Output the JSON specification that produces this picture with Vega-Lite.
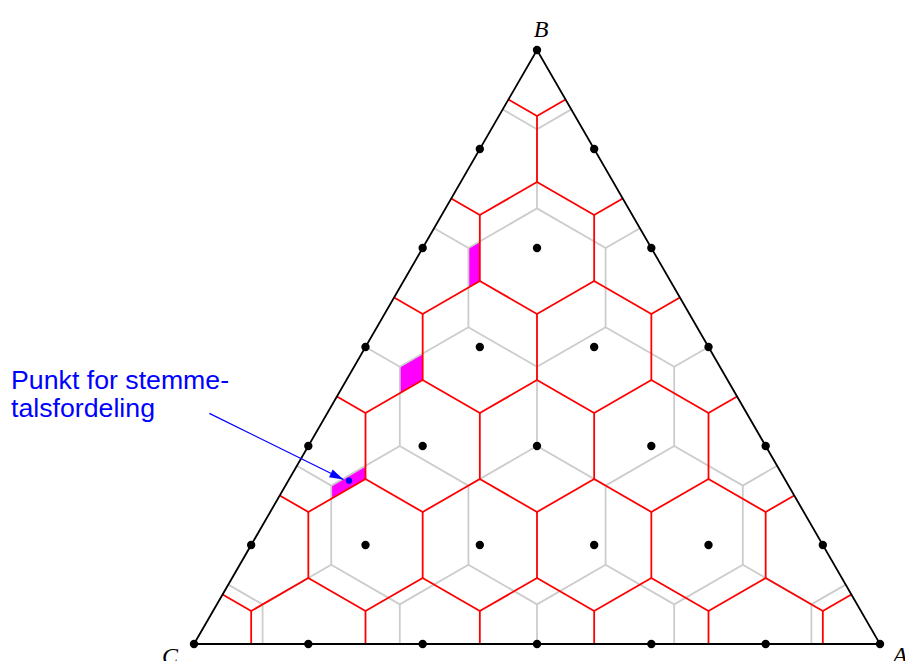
{
  "$schema": "https://vega.github.io/schema/vega-lite/v6.json",
  "width": 686,
  "height": 594,
  "autosize": {"type": "none"},
  "padding": {"left": 194, "top": 50, "right": 25, "bottom": 17},
  "background": "white",
  "config": {"view": {"stroke": null}},
  "layer": [
    {
      "data": {"values": [
        {"p": "M1", "x": 24, "y": 54, "y2": 60}, {"p": "M1", "x": 25, "y": 55, "y2": 61},
        {"p": "M2", "x": 18, "y": 38, "y2": 42}, {"p": "M2", "x": 20, "y": 40, "y2": 44},
        {"p": "M3", "x": 12, "y": 22, "y2": 24}, {"p": "M3", "x": 15, "y": 25, "y2": 27}
      ]},
      "mark": {"type": "area", "color": "#ff00ff", "opacity": 1},
      "encoding": {
        "x": {"field": "x", "type": "quantitative", "scale": {"domain": [0, 60], "nice": false, "zero": false}, "axis": null},
        "y": {"field": "y", "type": "quantitative", "stack": null, "scale": {"domain": [0, 90], "nice": false, "zero": false}, "axis": null},
        "y2": {"field": "y2"},
        "detail": {"field": "p"}
      }
    },
    {
      "data": {"values": [
        {"g": "g0", "x": 3, "y": 9}, {"g": "g0", "x": 6, "y": 6}, {"g": "g0", "x": 12, "y": 12}, {"g": "g0", "x": 18, "y": 6}, {"g": "g0", "x": 24, "y": 12}, {"g": "g0", "x": 30, "y": 6}, {"g": "g0", "x": 36, "y": 12}, {"g": "g0", "x": 42, "y": 6}, {"g": "g0", "x": 48, "y": 12}, {"g": "g0", "x": 54, "y": 6}, {"g": "g0", "x": 57, "y": 9},
        {"g": "g1", "x": 9, "y": 27}, {"g": "g1", "x": 12, "y": 24}, {"g": "g1", "x": 18, "y": 30}, {"g": "g1", "x": 24, "y": 24}, {"g": "g1", "x": 30, "y": 30}, {"g": "g1", "x": 36, "y": 24}, {"g": "g1", "x": 42, "y": 30}, {"g": "g1", "x": 48, "y": 24}, {"g": "g1", "x": 51, "y": 27},
        {"g": "g2", "x": 15, "y": 45}, {"g": "g2", "x": 18, "y": 42}, {"g": "g2", "x": 24, "y": 48}, {"g": "g2", "x": 30, "y": 42}, {"g": "g2", "x": 36, "y": 48}, {"g": "g2", "x": 42, "y": 42}, {"g": "g2", "x": 45, "y": 45},
        {"g": "g3", "x": 21, "y": 63}, {"g": "g3", "x": 24, "y": 60}, {"g": "g3", "x": 30, "y": 66}, {"g": "g3", "x": 36, "y": 60}, {"g": "g3", "x": 39, "y": 63},
        {"g": "g4", "x": 27, "y": 81}, {"g": "g4", "x": 30, "y": 78}, {"g": "g4", "x": 33, "y": 81}
      ]},
      "mark": {"type": "line", "color": "#cccccc", "strokeWidth": 1.8},
      "encoding": {
        "x": {"field": "x", "type": "quantitative", "scale": {"domain": [0, 60], "nice": false, "zero": false}, "axis": null},
        "y": {"field": "y", "type": "quantitative", "scale": {"domain": [0, 90], "nice": false, "zero": false}, "axis": null},
        "detail": {"field": "g"}
      }
    },
    {
      "data": {"values": [
        {"x": 12, "y": 12, "y2": 24}, {"x": 24, "y": 12, "y2": 24}, {"x": 36, "y": 12, "y2": 24}, {"x": 48, "y": 12, "y2": 24},
        {"x": 18, "y": 30, "y2": 42}, {"x": 30, "y": 30, "y2": 42}, {"x": 42, "y": 30, "y2": 42},
        {"x": 24, "y": 48, "y2": 60}, {"x": 36, "y": 48, "y2": 60},
        {"x": 30, "y": 66, "y2": 78},
        {"x": 6, "y": 0, "y2": 6}, {"x": 18, "y": 0, "y2": 6}, {"x": 30, "y": 0, "y2": 6}, {"x": 42, "y": 0, "y2": 6}, {"x": 54, "y": 0, "y2": 6}
      ]},
      "mark": {"type": "rule", "color": "#cccccc", "strokeWidth": 1.8},
      "encoding": {
        "x": {"field": "x", "type": "quantitative", "scale": {"domain": [0, 60], "nice": false, "zero": false}, "axis": null},
        "y": {"field": "y", "type": "quantitative", "scale": {"domain": [0, 90], "nice": false, "zero": false}, "axis": null},
        "y2": {"field": "y2"}
      }
    },
    {
      "data": {"values": [
        {"g": "r0", "x": 2.5, "y": 7.5}, {"g": "r0", "x": 5, "y": 5}, {"g": "r0", "x": 10, "y": 10}, {"g": "r0", "x": 15, "y": 5}, {"g": "r0", "x": 20, "y": 10}, {"g": "r0", "x": 25, "y": 5}, {"g": "r0", "x": 30, "y": 10}, {"g": "r0", "x": 35, "y": 5}, {"g": "r0", "x": 40, "y": 10}, {"g": "r0", "x": 45, "y": 5}, {"g": "r0", "x": 50, "y": 10}, {"g": "r0", "x": 55, "y": 5}, {"g": "r0", "x": 57.5, "y": 7.5},
        {"g": "r1", "x": 7.5, "y": 22.5}, {"g": "r1", "x": 10, "y": 20}, {"g": "r1", "x": 15, "y": 25}, {"g": "r1", "x": 20, "y": 20}, {"g": "r1", "x": 25, "y": 25}, {"g": "r1", "x": 30, "y": 20}, {"g": "r1", "x": 35, "y": 25}, {"g": "r1", "x": 40, "y": 20}, {"g": "r1", "x": 45, "y": 25}, {"g": "r1", "x": 50, "y": 20}, {"g": "r1", "x": 52.5, "y": 22.5},
        {"g": "r2", "x": 12.5, "y": 37.5}, {"g": "r2", "x": 15, "y": 35}, {"g": "r2", "x": 20, "y": 40}, {"g": "r2", "x": 25, "y": 35}, {"g": "r2", "x": 30, "y": 40}, {"g": "r2", "x": 35, "y": 35}, {"g": "r2", "x": 40, "y": 40}, {"g": "r2", "x": 45, "y": 35}, {"g": "r2", "x": 47.5, "y": 37.5},
        {"g": "r3", "x": 17.5, "y": 52.5}, {"g": "r3", "x": 20, "y": 50}, {"g": "r3", "x": 25, "y": 55}, {"g": "r3", "x": 30, "y": 50}, {"g": "r3", "x": 35, "y": 55}, {"g": "r3", "x": 40, "y": 50}, {"g": "r3", "x": 42.5, "y": 52.5},
        {"g": "r4", "x": 22.5, "y": 67.5}, {"g": "r4", "x": 25, "y": 65}, {"g": "r4", "x": 30, "y": 70}, {"g": "r4", "x": 35, "y": 65}, {"g": "r4", "x": 37.5, "y": 67.5},
        {"g": "r5", "x": 27.5, "y": 82.5}, {"g": "r5", "x": 30, "y": 80}, {"g": "r5", "x": 32.5, "y": 82.5}
      ]},
      "mark": {"type": "line", "color": "#ff0000", "strokeWidth": 1.8},
      "encoding": {
        "x": {"field": "x", "type": "quantitative", "scale": {"domain": [0, 60], "nice": false, "zero": false}, "axis": null},
        "y": {"field": "y", "type": "quantitative", "scale": {"domain": [0, 90], "nice": false, "zero": false}, "axis": null},
        "detail": {"field": "g"}
      }
    },
    {
      "data": {"values": [
        {"x": 10, "y": 10, "y2": 20}, {"x": 20, "y": 10, "y2": 20}, {"x": 30, "y": 10, "y2": 20}, {"x": 40, "y": 10, "y2": 20}, {"x": 50, "y": 10, "y2": 20},
        {"x": 15, "y": 25, "y2": 35}, {"x": 25, "y": 25, "y2": 35}, {"x": 35, "y": 25, "y2": 35}, {"x": 45, "y": 25, "y2": 35},
        {"x": 20, "y": 40, "y2": 50}, {"x": 30, "y": 40, "y2": 50}, {"x": 40, "y": 40, "y2": 50},
        {"x": 25, "y": 55, "y2": 65}, {"x": 35, "y": 55, "y2": 65},
        {"x": 30, "y": 70, "y2": 80},
        {"x": 5, "y": 0, "y2": 5}, {"x": 15, "y": 0, "y2": 5}, {"x": 25, "y": 0, "y2": 5}, {"x": 35, "y": 0, "y2": 5}, {"x": 45, "y": 0, "y2": 5}, {"x": 55, "y": 0, "y2": 5}
      ]},
      "mark": {"type": "rule", "color": "#ff0000", "strokeWidth": 1.8},
      "encoding": {
        "x": {"field": "x", "type": "quantitative", "scale": {"domain": [0, 60], "nice": false, "zero": false}, "axis": null},
        "y": {"field": "y", "type": "quantitative", "scale": {"domain": [0, 90], "nice": false, "zero": false}, "axis": null},
        "y2": {"field": "y2"}
      }
    },
    {
      "data": {"values": [
        {"o": 0, "x": 0, "y": 0}, {"o": 1, "x": 60, "y": 0}, {"o": 2, "x": 30, "y": 90}, {"o": 3, "x": 0, "y": 0}
      ]},
      "mark": {"type": "line", "color": "#000000", "strokeWidth": 1.8},
      "encoding": {
        "x": {"field": "x", "type": "quantitative", "scale": {"domain": [0, 60], "nice": false, "zero": false}, "axis": null},
        "y": {"field": "y", "type": "quantitative", "scale": {"domain": [0, 90], "nice": false, "zero": false}, "axis": null},
        "order": {"field": "o"}
      }
    },
    {
      "data": {"values": [
        {"x": 0, "y": 0}, {"x": 10, "y": 0}, {"x": 20, "y": 0}, {"x": 30, "y": 0}, {"x": 40, "y": 0}, {"x": 50, "y": 0}, {"x": 60, "y": 0},
        {"x": 5, "y": 15}, {"x": 15, "y": 15}, {"x": 25, "y": 15}, {"x": 35, "y": 15}, {"x": 45, "y": 15}, {"x": 55, "y": 15},
        {"x": 10, "y": 30}, {"x": 20, "y": 30}, {"x": 30, "y": 30}, {"x": 40, "y": 30}, {"x": 50, "y": 30},
        {"x": 15, "y": 45}, {"x": 25, "y": 45}, {"x": 35, "y": 45}, {"x": 45, "y": 45},
        {"x": 20, "y": 60}, {"x": 30, "y": 60}, {"x": 40, "y": 60},
        {"x": 25, "y": 75}, {"x": 35, "y": 75},
        {"x": 30, "y": 90}
      ]},
      "mark": {"type": "point", "filled": true, "color": "#000000", "size": 70, "opacity": 1},
      "encoding": {
        "x": {"field": "x", "type": "quantitative", "scale": {"domain": [0, 60], "nice": false, "zero": false}, "axis": null},
        "y": {"field": "y", "type": "quantitative", "scale": {"domain": [0, 90], "nice": false, "zero": false}, "axis": null}
      }
    },
    {
      "data": {"values": [{"x": 1.34, "y": 34.95, "x2": 13.07, "y2": 24.92}]},
      "mark": {"type": "rule", "color": "#0000ff", "strokeWidth": 1.3},
      "encoding": {
        "x": {"field": "x", "type": "quantitative", "scale": {"domain": [0, 60], "nice": false, "zero": false}, "axis": null},
        "y": {"field": "y", "type": "quantitative", "scale": {"domain": [0, 90], "nice": false, "zero": false}, "axis": null},
        "x2": {"field": "x2"},
        "y2": {"field": "y2"}
      }
    },
    {
      "data": {"values": [{"x": 13.07, "y": 24.92}]},
      "mark": {"type": "point", "filled": true, "color": "#0000ff", "opacity": 1, "shape": "M0,0L-2,-0.6L-2,0.6Z", "size": 196, "angle": 26.1},
      "encoding": {
        "x": {"field": "x", "type": "quantitative", "scale": {"domain": [0, 60], "nice": false, "zero": false}, "axis": null},
        "y": {"field": "y", "type": "quantitative", "scale": {"domain": [0, 90], "nice": false, "zero": false}, "axis": null}
      }
    },
    {
      "data": {"values": [{"x": 13.56, "y": 24.75}]},
      "mark": {"type": "point", "filled": true, "color": "#0000ff", "opacity": 1, "size": 40},
      "encoding": {
        "x": {"field": "x", "type": "quantitative", "scale": {"domain": [0, 60], "nice": false, "zero": false}, "axis": null},
        "y": {"field": "y", "type": "quantitative", "scale": {"domain": [0, 90], "nice": false, "zero": false}, "axis": null}
      }
    },
    {
      "data": {"values": [
        {"t": "Punkt for stemme-", "x": -16, "y": 38.6},
        {"t": "talsfordeling", "x": -16, "y": 34.35}
      ]},
      "mark": {"type": "text", "color": "#0000ff", "font": "Liberation Sans", "fontSize": 26.7, "align": "left", "baseline": "alphabetic"},
      "encoding": {
        "x": {"field": "x", "type": "quantitative", "scale": {"domain": [0, 60], "nice": false, "zero": false}, "axis": null},
        "y": {"field": "y", "type": "quantitative", "scale": {"domain": [0, 90], "nice": false, "zero": false}, "axis": null},
        "text": {"field": "t"}
      }
    },
    {
      "data": {"values": [
        {"t": "B", "x": 30.35, "y": 91.9},
        {"t": "C", "x": -2.1, "y": -3.1},
        {"t": "A", "x": 61.75, "y": -2.9}
      ]},
      "mark": {"type": "text", "color": "#000000", "font": "Liberation Serif", "fontStyle": "italic", "fontSize": 24, "align": "center", "baseline": "alphabetic"},
      "encoding": {
        "x": {"field": "x", "type": "quantitative", "scale": {"domain": [0, 60], "nice": false, "zero": false}, "axis": null},
        "y": {"field": "y", "type": "quantitative", "scale": {"domain": [0, 90], "nice": false, "zero": false}, "axis": null},
        "text": {"field": "t"}
      }
    }
  ]
}
